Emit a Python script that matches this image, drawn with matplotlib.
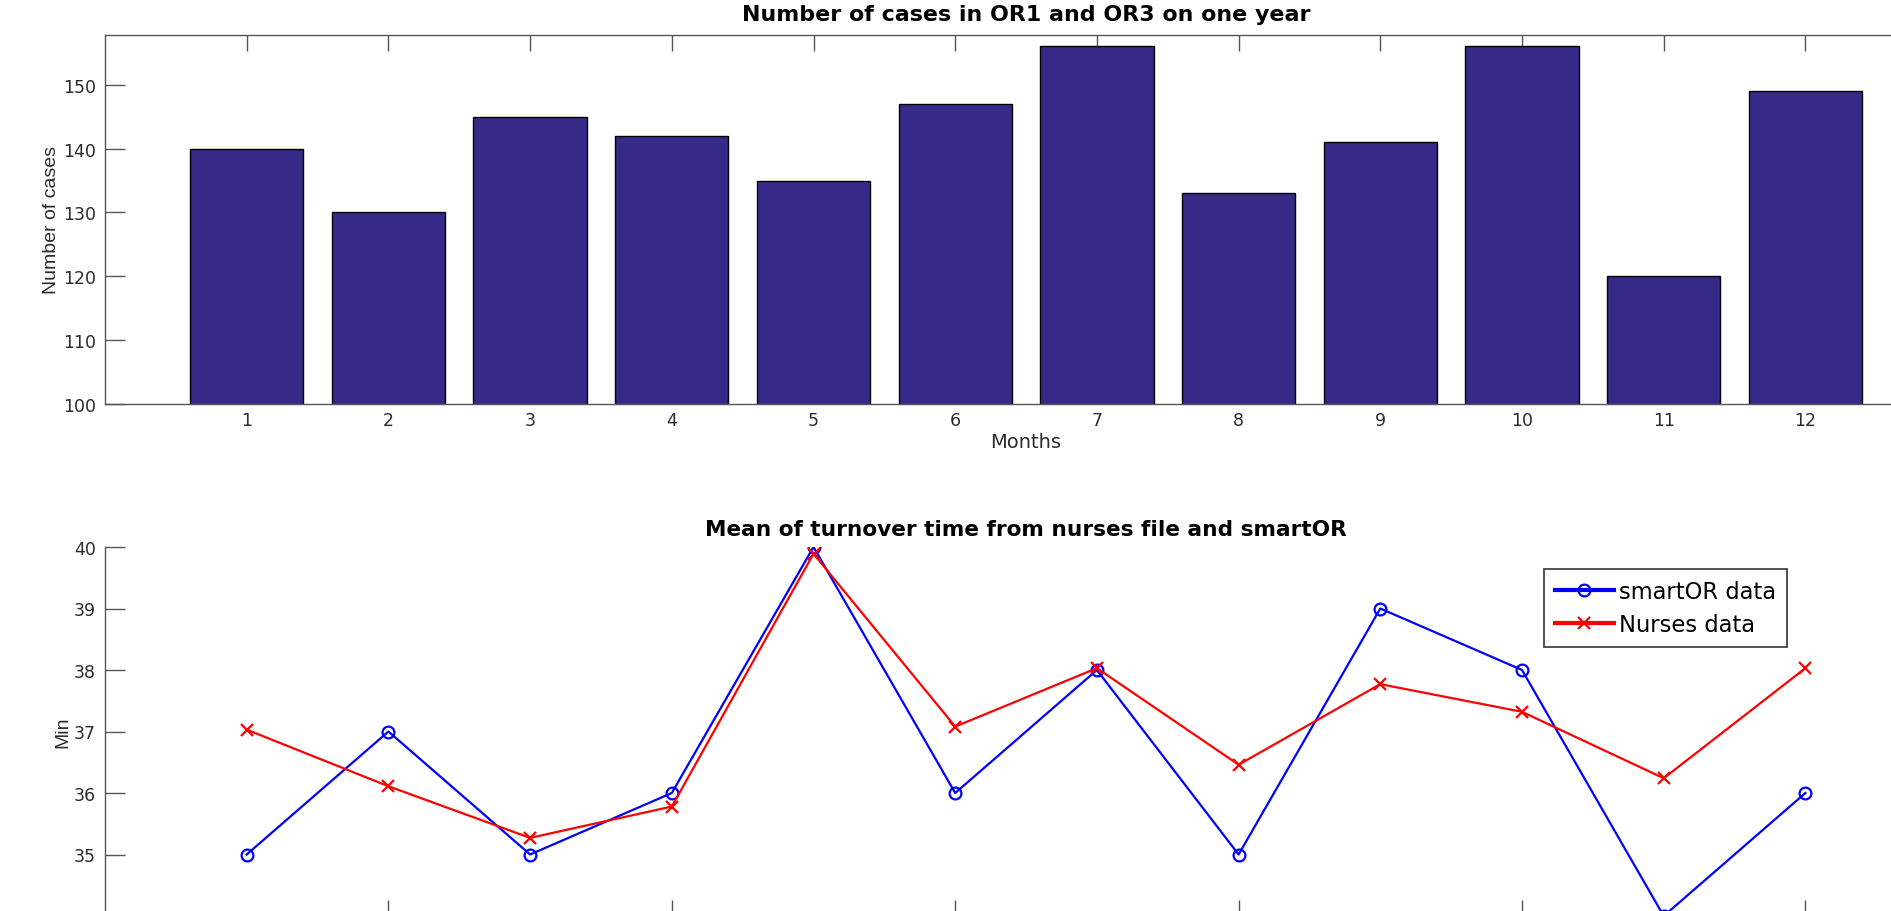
import matplotlib
matplotlib.use("Agg")
import matplotlib.pyplot as plt
import numpy as np

# Monthly case counts for OR1 + OR3
months = [1, 2, 3, 4, 5, 6, 7, 8, 9, 10, 11, 12]
cases = [140, 130, 145, 142, 135, 147, 156, 133, 141, 156, 120, 149]

# Mean turnover time (minutes) per month
smartor_mean = [35, 37, 35, 36, 40, 36, 38, 35, 39, 38, 34, 36]
nurses_mean = [37.03, 36.11, 35.27, 35.78, 39.89, 37.08, 38.03, 36.46, 37.77, 37.32, 36.24, 38.03]

W, H, DPI = 1891, 912, 100
fig = plt.figure(figsize=(W / DPI, H / DPI), dpi=DPI)
fig.patch.set_facecolor("white")

HFONT = "DejaVu Sans"
VFONT = "Liberation Sans"
SPINE = "#555555"
TXT = "#2b2b2b"

# axes geometry in pixels
left_px = 105
unit_px = 141.7
width_px = 13 * unit_px
ax_h_px = 369

def fig_rect(top_px):
    return [left_px / W, 1 - (top_px + ax_h_px) / H, width_px / W, ax_h_px / H]

# ---- top: bar chart ----
ax1 = fig.add_axes(fig_rect(36))
ax1.bar(months, cases, width=0.8, color="#352A87", edgecolor="black", linewidth=1.0, zorder=2)
ax1.set_xlim(0, 13)
ax1.set_ylim(100, 157.8)
ax1.set_xticks(months)
ax1.set_yticks([100, 110, 120, 130, 140, 150])
for s in ax1.spines.values():
    s.set_color(SPINE)
    s.set_linewidth(1.0)
ax1.tick_params(axis="x", direction="in", length=11.5, width=1.0, color=SPINE,
                top=True, bottom=True, labelsize=12.5, labelcolor=TXT, pad=5)
ax1.tick_params(axis="y", direction="in", length=14.4, width=1.0, color=SPINE,
                left=True, right=True, labelsize=12.5, labelcolor=TXT, pad=6.5)
for lab in ax1.get_xticklabels() + ax1.get_yticklabels():
    lab.set_fontfamily(HFONT)
ax1.set_title("Number of cases in OR1 and OR3 on one year", fontsize=15.9,
              fontweight="bold", family=HFONT, color="black", pad=10.8)
ax1.set_xlabel("Months", fontsize=14, family=HFONT, color=TXT)
ax1.xaxis.set_label_coords(0.5, -0.076)
ax1.set_ylabel("Number of cases", fontsize=14, family=VFONT, color=TXT)
ax1.yaxis.set_label_coords(-0.0244, 0.5)

# ---- bottom: line chart ----
ax2 = fig.add_axes(fig_rect(548))
ax2.plot(months, smartor_mean, color="#0000ff", linewidth=1.6, marker="o",
         markersize=8.5, markerfacecolor="none", markeredgewidth=1.6, label="smartOR data")
ax2.plot(months, nurses_mean, color="#ff0000", linewidth=1.6, marker="x",
         markersize=8.5, markeredgewidth=1.6, label="Nurses data")
ax2.set_xlim(0, 13)
ax2.set_ylim(34, 40)
ax2.set_xticks([2, 4, 6, 8, 10, 12])
ax2.set_yticks([34, 35, 36, 37, 38, 39, 40])
ax2.spines["top"].set_visible(False)
ax2.spines["right"].set_visible(False)
for s in ("left", "bottom"):
    ax2.spines[s].set_color(SPINE)
    ax2.spines[s].set_linewidth(1.0)
ax2.tick_params(axis="x", direction="in", length=11.5, width=1.0, color=SPINE,
                labelbottom=False)
ax2.tick_params(axis="y", direction="in", length=14.4, width=1.0, color=SPINE,
                labelsize=12.5, labelcolor=TXT, pad=6.5)
for lab in ax2.get_yticklabels():
    lab.set_fontfamily(HFONT)
ax2.set_title("Mean of turnover time from nurses file and smartOR", fontsize=15.6,
              fontweight="bold", family=HFONT, color="black", pad=8.6)
ax2.set_ylabel("Min", fontsize=14, family=VFONT, color=TXT)
ax2.yaxis.set_label_coords(-0.0185, 0.5)

leg = ax2.legend(loc="upper left", bbox_to_anchor=(1544 / W, 1 - 570 / H),
                 bbox_transform=fig.transFigure, borderaxespad=0,
                 prop={"family": HFONT, "size": 16.3}, handlelength=2.6,
                 handletextpad=0.25, borderpad=0.47, labelspacing=0.46,
                 fancybox=False, framealpha=1, edgecolor="#333333")
leg.get_frame().set_linewidth(1.2)
for line in leg.get_lines():
    line.set_linewidth(3)

fig.savefig("out.png", dpi=DPI)
